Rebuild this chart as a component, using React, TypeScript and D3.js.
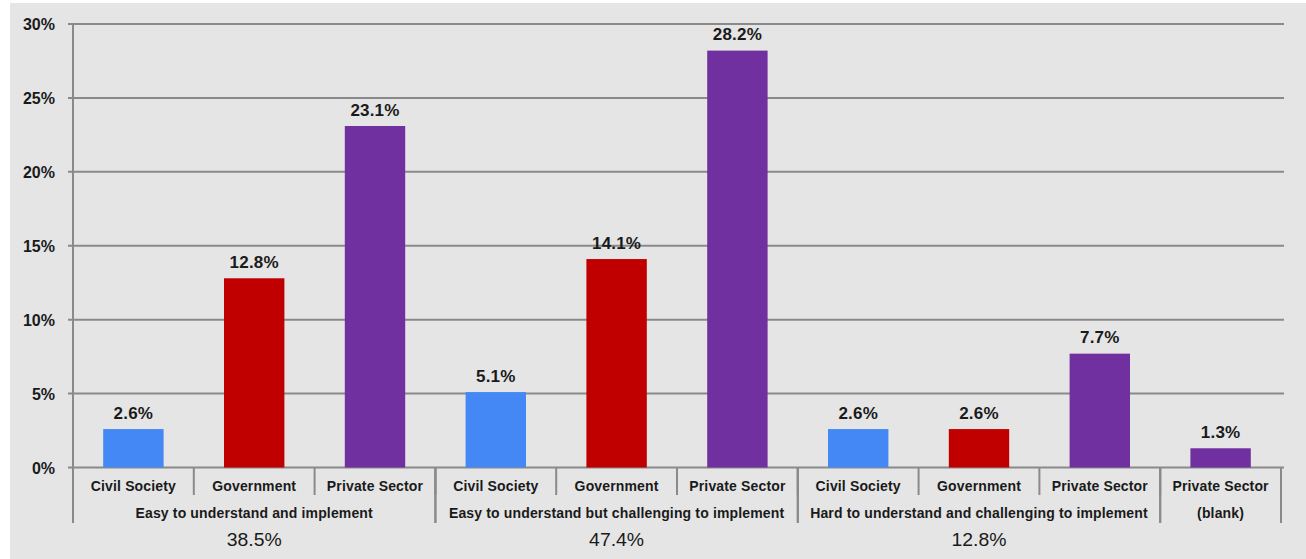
import React, { useRef, useEffect } from 'react';
import * as d3 from 'd3';

// categories along the x axis, left to right
const categories = [
  'Civil Society', 'Government', 'Private Sector',
  'Civil Society', 'Government', 'Private Sector',
  'Civil Society', 'Government', 'Private Sector',
  'Private Sector',
];
const groupLabels = [
  'Easy to understand and implement',
  'Easy to understand but challenging to implement',
  'Hard to understand and challenging to implement',
  '(blank)',
];
const groupSizes = [3, 3, 3, 1];
const groupTotals = ['38.5%', '47.4%', '12.8%', ''];
const values = [2.6, 12.8, 23.1, 5.1, 14.1, 28.2, 2.6, 2.6, 7.7, 1.3];
const yTicks = [0, 5, 10, 15, 20, 25, 30];

const colorOf: Record<string, string> = {
  'Civil Society': '#4388f5',
  'Government': '#c00000',
  'Private Sector': '#7030a0',
};

const W = 1306;
const H = 559;

const App: React.FC = () => {
  const svgRef = useRef<SVGSVGElement>(null);

  useEffect(() => {
    document.body.style.margin = '0';
    if (!svgRef.current) return;
    const svg = d3.select(svgRef.current);
    svg.selectAll('*').remove();

    const left = 73, right = 1281, top = 24, bottom = 467.5;
    const font = '"Liberation Sans", Arial, sans-serif';
    const textColor = '#1a1a1a';
    const lineColor = '#8a8a8a';

    svg.append('rect')
      .attr('x', 10).attr('y', 3)
      .attr('width', W - 10).attr('height', H - 3)
      .attr('fill', '#e5e5e5');

    const x = d3.scaleBand<number>()
      .domain(d3.range(categories.length))
      .range([left, right])
      .paddingInner(0)
      .paddingOuter(0);
    const y = d3.scaleLinear().domain([0, 30]).range([bottom, top]);

    // gridlines + y labels
    const g = svg.append('g');
    yTicks.forEach(t => {
      g.append('line')
        .attr('x1', left - 5).attr('x2', 1284)
        .attr('y1', y(t)).attr('y2', y(t))
        .attr('stroke', lineColor).attr('stroke-width', 2);
      g.append('text')
        .attr('x', 55).attr('y', y(t) + 6)
        .attr('text-anchor', 'end')
        .style('font-family', font).style('font-weight', 'bold')
        .style('font-size', '16px').style('fill', textColor)
        .text(`${t}%`);
    });

    // y axis line
    g.append('line')
      .attr('x1', left).attr('x2', left)
      .attr('y1', top).attr('y2', bottom)
      .attr('stroke', lineColor).attr('stroke-width', 2);

    // bars
    const bw = x.bandwidth() * 0.5;
    svg.append('g').selectAll('rect')
      .data(values)
      .enter()
      .append('rect')
      .attr('x', (_, i) => x(i)! + x.bandwidth() / 2 - bw / 2)
      .attr('width', bw)
      .attr('y', d => y(d))
      .attr('height', d => bottom - y(d))
      .attr('fill', (_, i) => colorOf[categories[i]]);

    // value labels
    svg.append('g').selectAll('text')
      .data(values)
      .enter()
      .append('text')
      .attr('x', (_, i) => x(i)! + x.bandwidth() / 2)
      .attr('y', d => y(d) - 10.5)
      .attr('text-anchor', 'middle')
      .style('font-family', font).style('font-weight', 'bold')
      .style('font-size', '17px').style('fill', textColor)
      .style('letter-spacing', '0.2px')
      .text(d => `${d.toFixed(1)}%`);

    // category labels and separators
    const ax = svg.append('g');
    categories.forEach((c, i) => {
      ax.append('text')
        .attr('x', x(i)! + x.bandwidth() / 2).attr('y', 491)
        .attr('text-anchor', 'middle')
        .style('font-family', font).style('font-weight', 'bold')
        .style('font-size', '14px').style('fill', textColor)
        .style('letter-spacing', '0.15px')
        .text(c);
      if (i > 0) {
        ax.append('line')
          .attr('x1', x(i)!).attr('x2', x(i)!)
          .attr('y1', bottom).attr('y2', 495)
          .attr('stroke', lineColor).attr('stroke-width', 2);
      }
    });

    // group labels, totals and group separators
    let start = 0;
    groupLabels.forEach((lab, gi) => {
      const n = groupSizes[gi];
      const x0 = x(start)!;
      const x1 = x0 + n * x.bandwidth();
      const cx = (x0 + x1) / 2;
      ax.append('text')
        .attr('x', cx).attr('y', 518)
        .attr('text-anchor', 'middle')
        .style('font-family', font).style('font-weight', 'bold')
        .style('font-size', '14px').style('fill', textColor)
        .style('letter-spacing', '0.15px')
        .text(lab);
      if (groupTotals[gi]) {
        ax.append('text')
          .attr('x', cx).attr('y', 545.5)
          .attr('text-anchor', 'middle')
          .attr('textLength', 55)
          .attr('lengthAdjust', 'spacingAndGlyphs')
          .style('font-family', font)
          .style('font-size', '19px').style('fill', textColor)
          .text(groupTotals[gi]);
      }
      [x0, x1].forEach(xx => {
        ax.append('line')
          .attr('x1', xx).attr('x2', xx)
          .attr('y1', bottom).attr('y2', 523)
          .attr('stroke', lineColor).attr('stroke-width', 2);
      });
      start += n;
    });
  }, []);

  return <svg ref={svgRef} width={W} height={H} style={{ display: 'block' }}></svg>;
};

export default App;
